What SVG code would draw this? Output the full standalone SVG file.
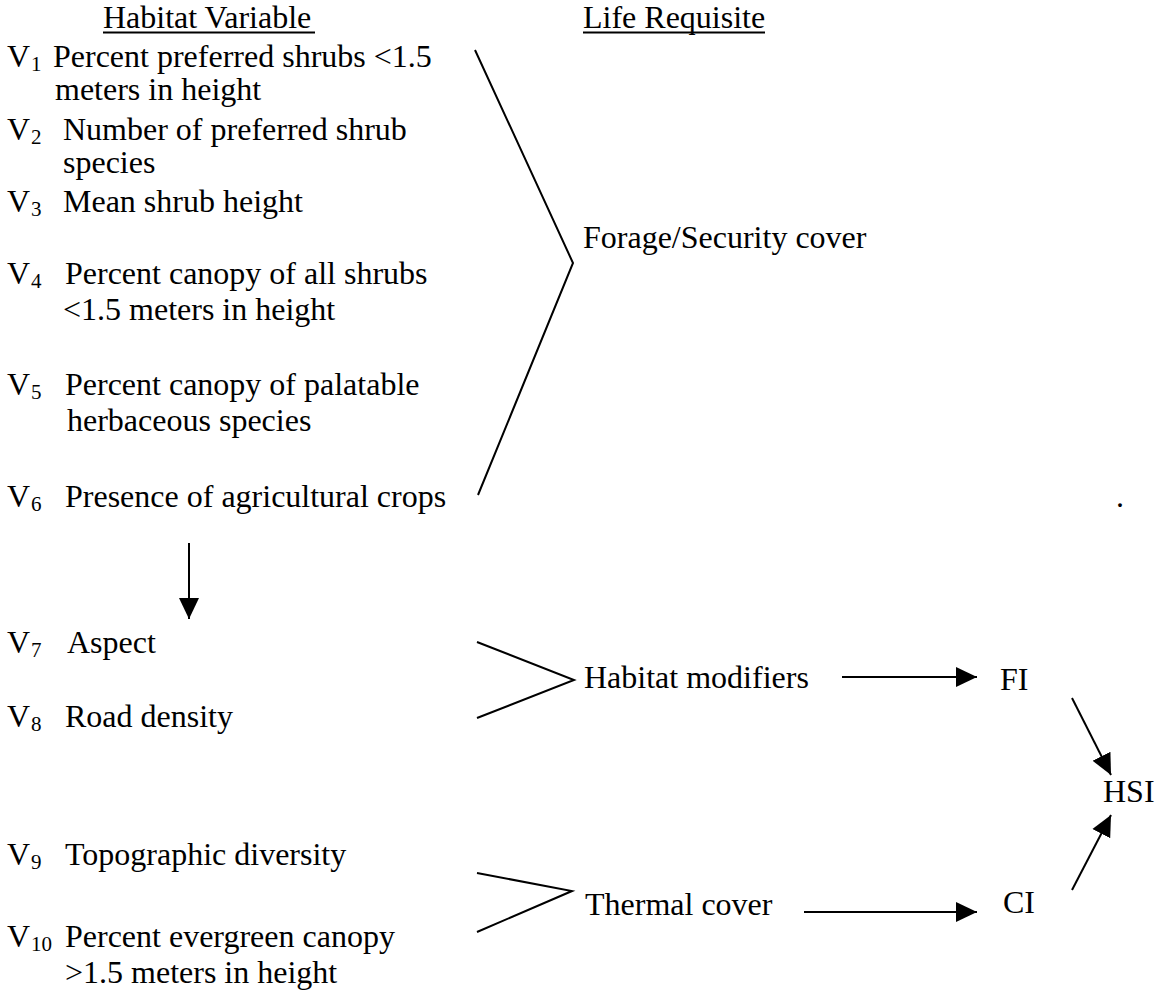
<svg xmlns="http://www.w3.org/2000/svg" width="1159" height="991" viewBox="0 0 1159 991">
<style>
text{font-family:"Liberation Serif","Times New Roman",serif;font-size:32px;fill:#000}
.sub{font-size:21px}
.ln{stroke:#000;stroke-width:2;fill:none}
.ul{stroke:#000;stroke-width:2}
</style>
<defs>
<marker id="ah" markerUnits="userSpaceOnUse" markerWidth="22" markerHeight="22" refX="21" refY="10" orient="auto" viewBox="0 0 22 20">
<path d="M0,0 L21,10 L0,20 z" fill="#000"/>
</marker>
</defs>
<rect width="1159" height="991" fill="#fff"/>

<g id="hdr-habitat">
<text x="103" y="28">Habitat Variable</text>
<line class="ul" x1="103" y1="32.5" x2="315" y2="32.5"/>
</g>
<g id="hdr-life">
<text x="583" y="28">Life Requisite</text>
<line class="ul" x1="583" y1="32.5" x2="765" y2="32.5"/>
</g>

<g id="v1">
<text x="7" y="67">V</text><text class="sub" x="31" y="71">1</text>
<text x="53" y="67">Percent preferred shrubs &lt;1.5</text>
<text x="55" y="100">meters in height</text>
</g>
<g id="v2">
<text x="7" y="140">V</text><text class="sub" x="31" y="144">2</text>
<text x="63" y="140">Number of preferred shrub</text>
<text x="63" y="173">species</text>
</g>
<g id="v3">
<text x="7" y="212">V</text><text class="sub" x="31" y="216">3</text>
<text x="63" y="212">Mean shrub height</text>
</g>
<g id="v4">
<text x="7" y="284">V</text><text class="sub" x="31" y="288">4</text>
<text x="65" y="284">Percent canopy of all shrubs</text>
<text x="63" y="320">&lt;1.5 meters in height</text>
</g>
<g id="v5">
<text x="7" y="395">V</text><text class="sub" x="31" y="399">5</text>
<text x="65" y="395">Percent canopy of palatable</text>
<text x="67" y="431">herbaceous species</text>
</g>
<g id="v6">
<text x="7" y="507">V</text><text class="sub" x="31" y="511">6</text>
<text x="65" y="507">Presence of agricultural crops</text>
</g>
<g id="v7">
<text x="7" y="653">V</text><text class="sub" x="31" y="657">7</text>
<text x="67" y="653">Aspect</text>
</g>
<g id="v8">
<text x="7" y="727">V</text><text class="sub" x="31" y="731">8</text>
<text x="65" y="727">Road density</text>
</g>
<g id="v9">
<text x="7" y="865">V</text><text class="sub" x="31" y="869">9</text>
<text x="65" y="865">Topographic diversity</text>
</g>
<g id="v10">
<text x="7" y="947">V</text><text class="sub" x="31" y="951">10</text>
<text x="65" y="947">Percent evergreen canopy</text>
<text x="65" y="983">&gt;1.5 meters in height</text>
</g>

<g id="forage">
<text x="583" y="248">Forage/Security cover</text>
</g>
<g id="modifiers">
<text x="584" y="688">Habitat modifiers</text>
</g>
<g id="thermal">
<text x="585" y="915">Thermal cover</text>
</g>
<g id="fi">
<text x="1000" y="690">FI</text>
</g>
<g id="ci">
<text x="1003" y="913">CI</text>
</g>
<g id="hsi">
<text x="1103" y="802">HSI</text>
</g>
<g id="dot">
<text x="1116" y="507">.</text>
</g>

<g id="connectors">
<polyline class="ln" points="475,50 573,263 478,495"/>
<polyline class="ln" points="477,642 574,680 477,718"/>
<polyline class="ln" points="477,873 572,891 477,932"/>
<line class="ln" x1="189" y1="543" x2="189" y2="619" marker-end="url(#ah)"/>
<line class="ln" x1="842" y1="677" x2="977" y2="677" marker-end="url(#ah)"/>
<line class="ln" x1="804" y1="912" x2="977" y2="912" marker-end="url(#ah)"/>
<line class="ln" x1="1072" y1="698" x2="1111" y2="775" marker-end="url(#ah)"/>
<line class="ln" x1="1072" y1="890" x2="1111" y2="815" marker-end="url(#ah)"/>
</g>
</svg>
